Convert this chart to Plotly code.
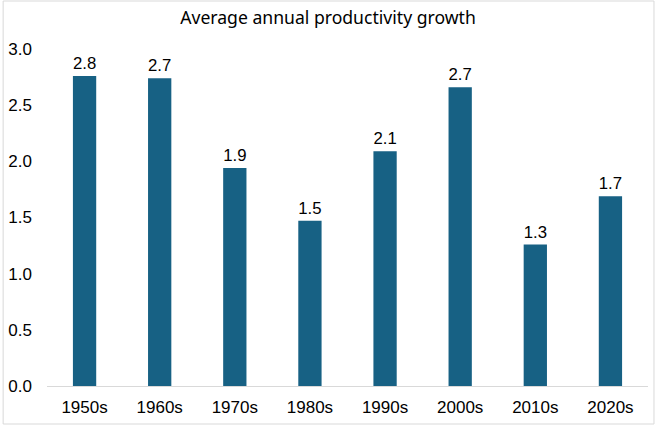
import plotly.graph_objects as go

categories = ["1950s", "1960s", "1970s", "1980s", "1990s", "2000s", "2010s", "2020s"]
values = [2.76, 2.74, 1.94, 1.47, 2.09, 2.66, 1.26, 1.69]
labels = ["2.8", "2.7", "1.9", "1.5", "2.1", "2.7", "1.3", "1.7"]
tick_vals = [0, 0.5, 1.0, 1.5, 2.0, 2.5, 3.0]
tick_text = ["0.0", "0.5", "1.0", "1.5", "2.0", "2.5", "3.0"]

W, H = 656, 426
ml, mr, mt, mb = 45, 8, 49, 40
pw, ph = W - ml - mr, H - mt - mb

fig = go.Figure(go.Bar(
    x=categories, y=values, text=labels, textposition="outside",
    textfont=dict(size=17, color="#000000"), cliponaxis=False,
    marker=dict(color="#176184", line=dict(width=0)),
    hoverinfo="skip",
))

fig.update_layout(
    width=W, height=H, margin=dict(l=ml, r=mr, t=mt, b=mb),
    paper_bgcolor="white", plot_bgcolor="white",
    font=dict(family="Liberation Sans, Arial, sans-serif", size=17, color="#000000"),
    title=dict(text="Average annual productivity growth", x=0.5, xanchor="center",
               y=1 - 18 / H, yanchor="middle",
               font=dict(family="Noto Sans, sans-serif", size=17.6)),
    bargap=0.69, showlegend=False,
    xaxis=dict(showgrid=False, showline=True, linecolor="#d9d9d9", linewidth=1,
               ticks="", tickfont=dict(size=17), ticklabelstandoff=6),
    yaxis=dict(range=[0, 3.0], tickvals=tick_vals, ticktext=tick_text,
               showgrid=False, zeroline=False, showline=False, ticks="",
               tickfont=dict(size=17), ticklabelstandoff=14),
    shapes=[dict(type="rect", xref="paper", yref="paper",
                 x0=(1 - ml) / pw, x1=(W - 2 - ml) / pw,
                 y0=-(H - 2 - mt - ph) / ph, y1=1 + (mt - 1) / ph,
                 line=dict(color="#d9d9d9", width=1), fillcolor="rgba(0,0,0,0)",
                 layer="below")],
)

fig.write_html("out.html", config={"displayModeBar": False},
               post_script="document.body.style.margin='0';document.body.style.overflow='hidden';")
